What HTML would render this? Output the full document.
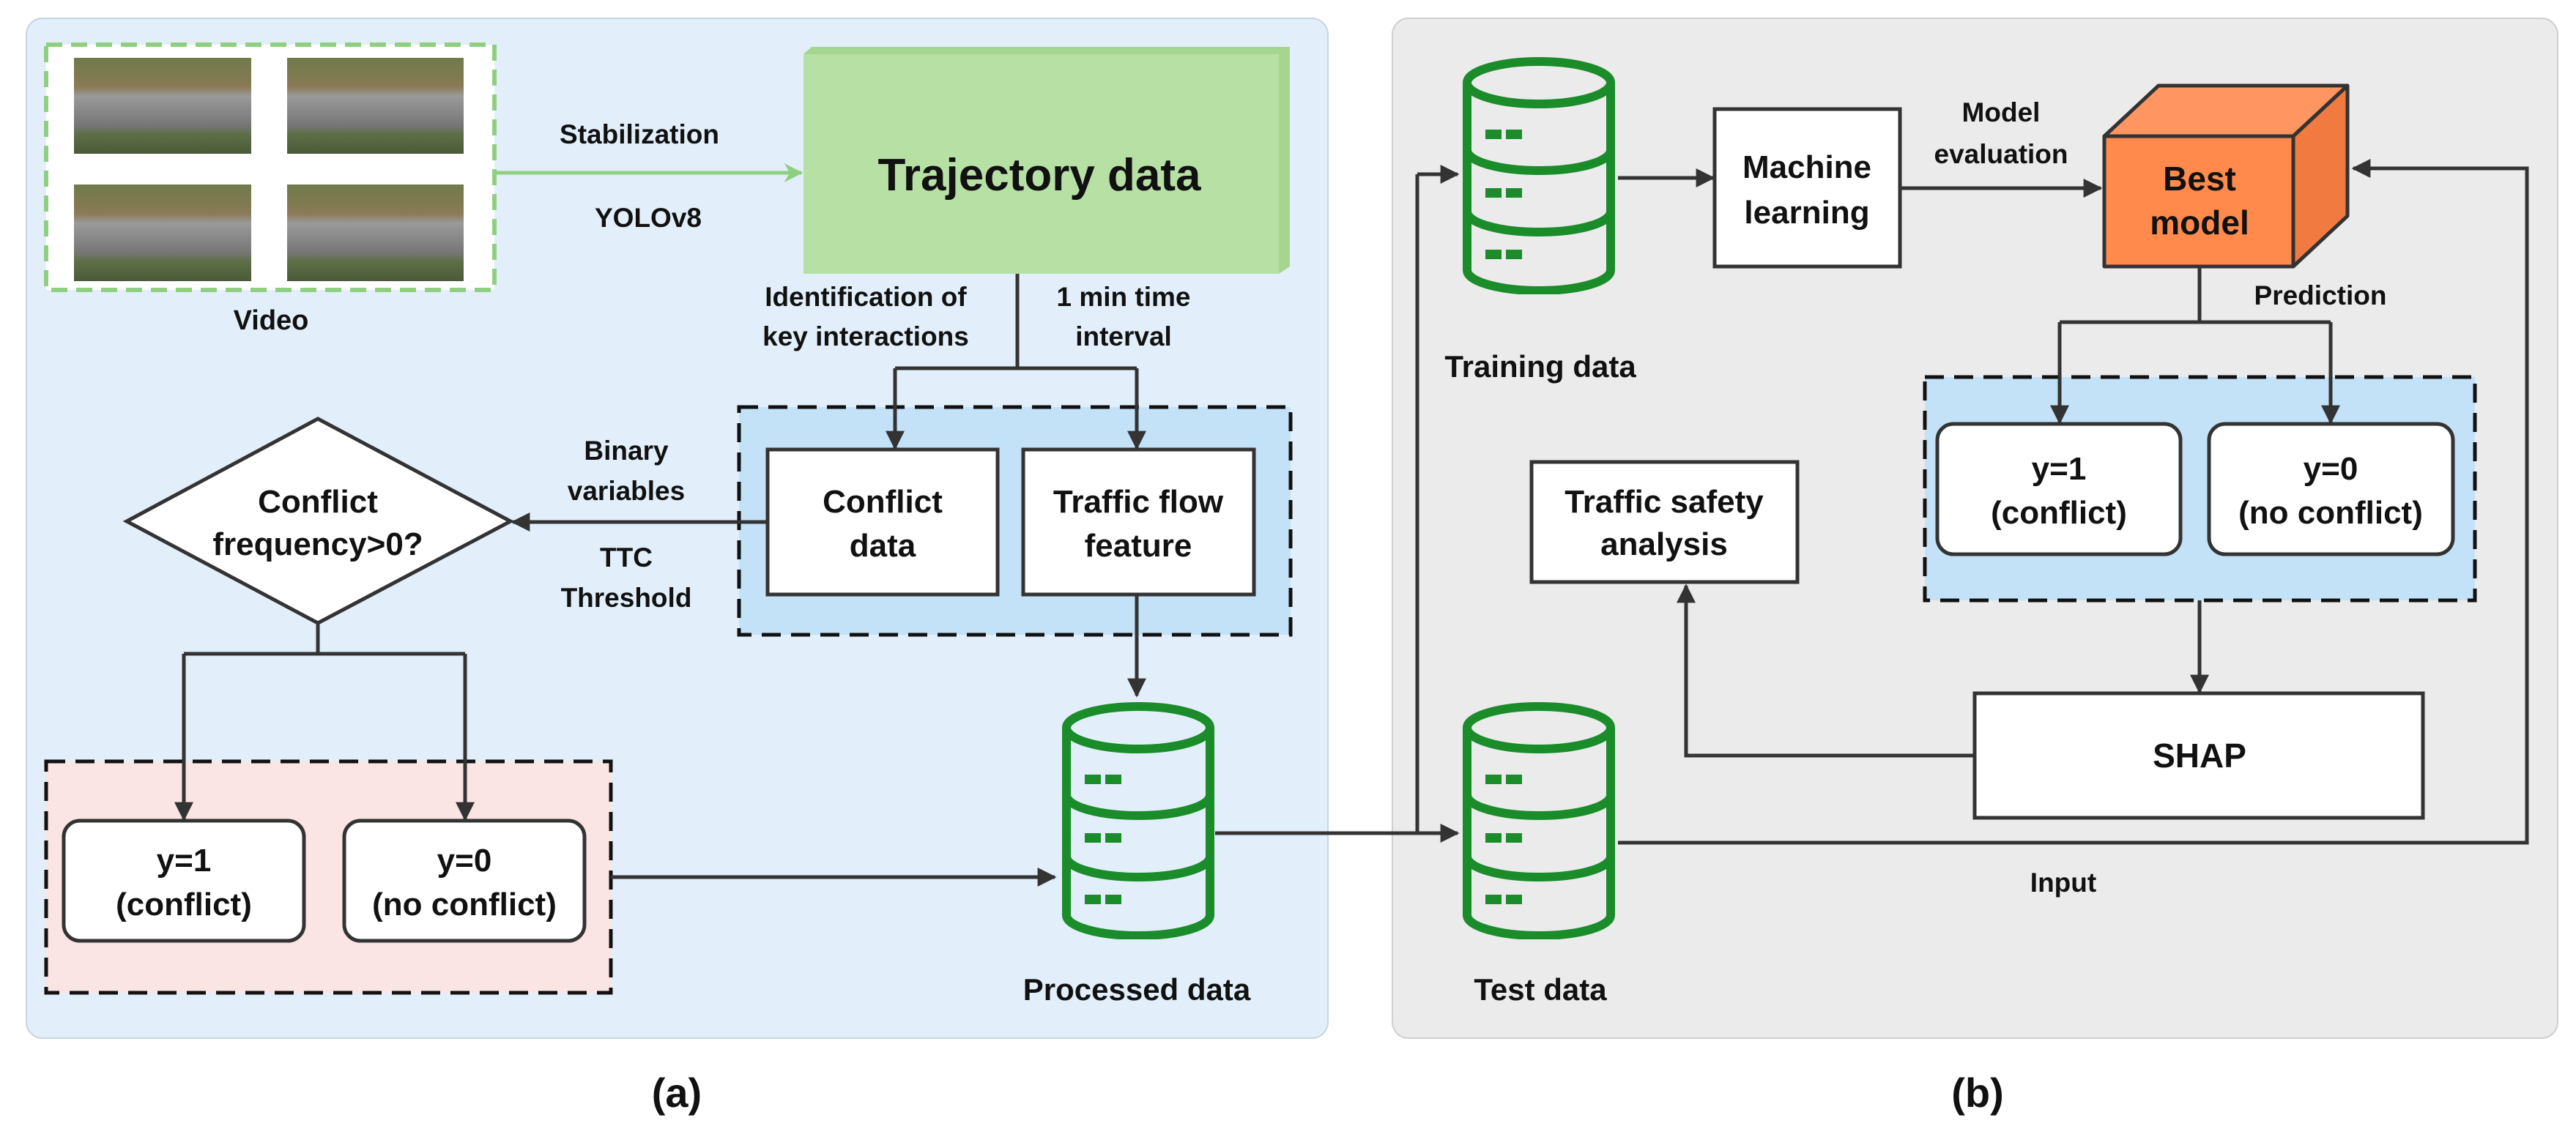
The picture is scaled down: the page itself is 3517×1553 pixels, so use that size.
<!DOCTYPE html>
<html><head><meta charset="utf-8"><style>
html,body{margin:0;padding:0;background:#fff}
svg{display:block}
text{font-family:"Liberation Sans",sans-serif;font-weight:bold;fill:#111}
</style></head><body>
<svg width="3517" height="1553" viewBox="0 0 3517 1553" xmlns="http://www.w3.org/2000/svg">
<defs>
<marker id="a" viewBox="0 0 10 10" refX="9" refY="5" markerWidth="26" markerHeight="26" markerUnits="userSpaceOnUse" orient="auto"><path d="M0,0 L10,5 L0,10 z" fill="#333"/></marker>
<marker id="ag" viewBox="0 0 10 10" refX="9" refY="5" markerWidth="26" markerHeight="26" markerUnits="userSpaceOnUse" orient="auto"><path d="M0,0 L10,5 L0,10 L3,5 z" fill="#8fd080"/></marker>
<symbol id="db" viewBox="0 0 210 325" width="210" height="325">
<g fill="none" stroke="#1a8c2a" stroke-width="12">
<ellipse cx="105" cy="36" rx="98" ry="29"/>
<path d="M7 36 V292 A98 28 0 0 0 203 292 V36"/>
<path d="M7 128 A98 28 0 0 0 203 128"/>
<path d="M7 212 A98 28 0 0 0 203 212"/>
</g>
<g fill="#1a8c2a">
<rect x="32" y="100" width="22" height="13"/><rect x="60" y="100" width="22" height="13"/>
<rect x="32" y="180" width="22" height="13"/><rect x="60" y="180" width="22" height="13"/>
<rect x="32" y="264" width="22" height="13"/><rect x="60" y="264" width="22" height="13"/>
</g>
</symbol>
<linearGradient id="road" x1="0" y1="0" x2="0" y2="1">
<stop offset="0" stop-color="#6f7a4a"/><stop offset="0.3" stop-color="#8a7a55"/><stop offset="0.4" stop-color="#9a9a9a"/><stop offset="0.7" stop-color="#777"/><stop offset="0.8" stop-color="#5e6e45"/><stop offset="1" stop-color="#4a5a3a"/>
</linearGradient>
</defs>

<rect x="36" y="25" width="1777" height="1393" rx="22" fill="#e2effb" stroke="#c8d4e0" stroke-width="2"/>
<rect x="1901" y="25" width="1591" height="1393" rx="22" fill="#ebebeb" stroke="#cfcfcf" stroke-width="2"/>

<rect x="63" y="61" width="612" height="335" fill="#fff" stroke="#8fd080" stroke-width="6" stroke-dasharray="22 12"/>
<rect x="101" y="79" width="242" height="131" fill="url(#road)"/>
<rect x="392" y="79" width="241" height="131" fill="url(#road)"/>
<rect x="101" y="252" width="242" height="132" fill="url(#road)"/>
<rect x="392" y="252" width="241" height="132" fill="url(#road)"/>
<text x="370" y="450" font-size="38" text-anchor="middle">Video</text>

<line x1="675" y1="236" x2="1094" y2="236" stroke="#8fd080" stroke-width="5" marker-end="url(#ag)"/>
<text x="873" y="196" font-size="37" text-anchor="middle">Stabilization</text>
<text x="885" y="310" font-size="37" text-anchor="middle">YOLOv8</text>

<polygon points="1097,74 1108,64 1761,64 1761,364 1746,374 1746,74" fill="#a6d58f"/>
<rect x="1097" y="74" width="649" height="300" fill="#b7e0a5"/>
<text x="1419" y="260" font-size="62" text-anchor="middle">Trajectory data</text>

<text x="1182" y="418" font-size="37" text-anchor="middle">Identification of</text>
<text x="1182" y="472" font-size="37" text-anchor="middle">key interactions</text>
<text x="1534" y="418" font-size="37" text-anchor="middle">1 min time</text>
<text x="1534" y="472" font-size="37" text-anchor="middle">interval</text>

<rect x="1009" y="556" width="753" height="311" fill="#c3e2f7" stroke="#111" stroke-width="5" stroke-dasharray="26 14"/>
<rect x="1048" y="614" width="314" height="198" fill="#fff" stroke="#333" stroke-width="5"/>
<rect x="1397" y="614" width="315" height="198" fill="#fff" stroke="#333" stroke-width="5"/>
<text x="1205" y="700" font-size="44" text-anchor="middle">Conflict</text>
<text x="1205" y="760" font-size="44" text-anchor="middle">data</text>
<text x="1554" y="700" font-size="44" text-anchor="middle">Traffic flow</text>
<text x="1554" y="760" font-size="44" text-anchor="middle">feature</text>

<g stroke="#333" stroke-width="5" fill="none">
<polyline points="1389,374 1389,503"/>
<polyline points="1222,503 1552,503"/>
<line x1="1222" y1="503" x2="1222" y2="612" marker-end="url(#a)"/>
<line x1="1552" y1="503" x2="1552" y2="612" marker-end="url(#a)"/>
</g>

<line x1="1048" y1="713" x2="700" y2="713" stroke="#333" stroke-width="5" marker-end="url(#a)"/>
<text x="855" y="628" font-size="37" text-anchor="middle">Binary</text>
<text x="855" y="683" font-size="37" text-anchor="middle">variables</text>
<text x="855" y="774" font-size="37" text-anchor="middle">TTC</text>
<text x="855" y="829" font-size="37" text-anchor="middle">Threshold</text>

<polygon points="434,572 697,712 434,851 173,712" fill="#fff" stroke="#333" stroke-width="5"/>
<text x="434" y="700" font-size="44" text-anchor="middle">Conflict</text>
<text x="434" y="758" font-size="44" text-anchor="middle">frequency&gt;0?</text>

<rect x="63" y="1040" width="771" height="316" fill="#fbe4e4" stroke="#111" stroke-width="5" stroke-dasharray="26 14"/>
<rect x="87" y="1121" width="328" height="164" rx="22" fill="#fff" stroke="#333" stroke-width="5"/>
<rect x="470" y="1121" width="328" height="164" rx="22" fill="#fff" stroke="#333" stroke-width="5"/>
<text x="251" y="1190" font-size="44" text-anchor="middle">y=1</text>
<text x="251" y="1250" font-size="44" text-anchor="middle">(conflict)</text>
<text x="634" y="1190" font-size="44" text-anchor="middle">y=0</text>
<text x="634" y="1250" font-size="44" text-anchor="middle">(no conflict)</text>

<g stroke="#333" stroke-width="5" fill="none">
<polyline points="434,851 434,893"/>
<polyline points="251,893 635,893"/>
<line x1="251" y1="893" x2="251" y2="1119" marker-end="url(#a)"/>
<line x1="635" y1="893" x2="635" y2="1119" marker-end="url(#a)"/>
</g>

<line x1="834" y1="1198" x2="1440" y2="1198" stroke="#333" stroke-width="5" marker-end="url(#a)"/>
<line x1="1552" y1="812" x2="1552" y2="950" stroke="#333" stroke-width="5" marker-end="url(#a)"/>

<use href="#db" x="1449" y="958"/>
<text x="1552" y="1366" font-size="42" text-anchor="middle">Processed data</text>
<text x="924" y="1512" font-size="56" text-anchor="middle">(a)</text>

<g stroke="#333" stroke-width="5" fill="none">
<polyline points="1659,1138 1935,1138 1935,238"/>
<line x1="1935" y1="238" x2="1990" y2="238" marker-end="url(#a)"/>
<line x1="1935" y1="1138" x2="1990" y2="1138" marker-end="url(#a)"/>
</g>

<use href="#db" x="1996" y="77"/>
<text x="2103" y="515" font-size="42" text-anchor="middle">Training data</text>
<use href="#db" x="1996" y="958"/>
<text x="2103" y="1366" font-size="42" text-anchor="middle">Test data</text>

<line x1="2209" y1="243" x2="2339" y2="243" stroke="#333" stroke-width="5" marker-end="url(#a)"/>
<rect x="2341" y="149" width="253" height="215" fill="#fff" stroke="#333" stroke-width="5"/>
<text x="2467" y="243" font-size="44" text-anchor="middle">Machine</text>
<text x="2467" y="305" font-size="44" text-anchor="middle">learning</text>

<line x1="2594" y1="257" x2="2868" y2="257" stroke="#333" stroke-width="5" marker-end="url(#a)"/>
<text x="2732" y="166" font-size="37" text-anchor="middle">Model</text>
<text x="2732" y="223" font-size="37" text-anchor="middle">evaluation</text>

<g stroke="#333" stroke-width="5" stroke-linejoin="round">
<polygon points="2873,186 2947,117 3205,117 3131,186" fill="#ff9560"/>
<polygon points="3131,186 3205,117 3205,295 3131,364" fill="#f07a40"/>
<rect x="2873" y="186" width="258" height="178" fill="#ff8a4c"/>
</g>
<text x="3003" y="260" font-size="46" text-anchor="middle">Best</text>
<text x="3003" y="320" font-size="46" text-anchor="middle">model</text>
<text x="3168" y="416" font-size="37" text-anchor="middle">Prediction</text>

<rect x="2628" y="515" width="751" height="305" fill="#c3e2f7" stroke="#111" stroke-width="5" stroke-dasharray="26 14"/>
<rect x="2645" y="579" width="332" height="178" rx="22" fill="#fff" stroke="#333" stroke-width="5"/>
<rect x="3016" y="579" width="333" height="178" rx="22" fill="#fff" stroke="#333" stroke-width="5"/>
<text x="2811" y="655" font-size="44" text-anchor="middle">y=1</text>
<text x="2811" y="715" font-size="44" text-anchor="middle">(conflict)</text>
<text x="3182" y="655" font-size="44" text-anchor="middle">y=0</text>
<text x="3182" y="715" font-size="44" text-anchor="middle">(no conflict)</text>

<g stroke="#333" stroke-width="5" fill="none">
<polyline points="3003,364 3003,440"/>
<polyline points="2812,440 3182,440"/>
<line x1="2812" y1="440" x2="2812" y2="577" marker-end="url(#a)"/>
<line x1="3182" y1="440" x2="3182" y2="577" marker-end="url(#a)"/>
</g>

<line x1="3003" y1="820" x2="3003" y2="945" stroke="#333" stroke-width="5" marker-end="url(#a)"/>
<rect x="2696" y="947" width="612" height="170" fill="#fff" stroke="#333" stroke-width="5"/>
<text x="3003" y="1048" font-size="46" text-anchor="middle">SHAP</text>

<polyline points="2696,1032 2302,1032 2302,800" fill="none" stroke="#333" stroke-width="5" marker-end="url(#a)"/>
<rect x="2091" y="631" width="363" height="164" fill="#fff" stroke="#333" stroke-width="5"/>
<text x="2272" y="700" font-size="44" text-anchor="middle">Traffic safety</text>
<text x="2272" y="758" font-size="44" text-anchor="middle">analysis</text>

<polyline points="2209,1151 3450,1151 3450,230 3213,230" fill="none" stroke="#333" stroke-width="5" marker-end="url(#a)"/>
<text x="2817" y="1218" font-size="37" text-anchor="middle">Input</text>

<text x="2700" y="1512" font-size="56" text-anchor="middle">(b)</text>
</svg>
</body></html>
